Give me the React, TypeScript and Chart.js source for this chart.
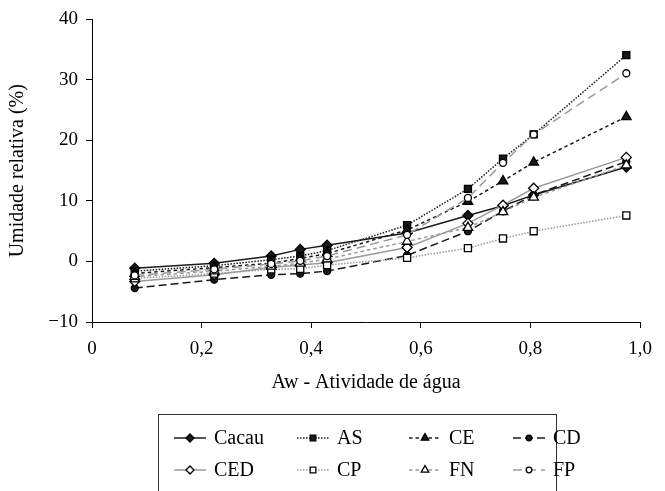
import React, { useEffect, useRef } from "react";
import { Chart, registerables } from "chart.js";
import { drawPoint } from "chart.js/helpers";

Chart.register(...registerables);

const FONT = '"Liberation Serif", "Times New Roman", serif';

const aw = [0.078, 0.223, 0.327, 0.38, 0.429, 0.575, 0.686, 0.75, 0.806, 0.975];
const seriesNames = ["Cacau", "AS", "CE", "CD", "CED", "CP", "FN", "FP"];
const cacau = [-1.1, -0.3, 0.9, 2.0, 2.7, 4.7, 7.6, 9.2, 11.0, 15.6];
const as = [-1.6, -0.7, 0.3, 0.9, 1.8, 6.0, 12.0, 17.0, 21.0, 34.1];
const ce = [-2.0, -1.0, -0.3, 0.5, 1.3, 5.2, 9.9, 13.3, 16.4, 23.9];
const cd = [-4.4, -3.0, -2.2, -2.0, -1.6, 1.0, 5.0, 8.3, 11.0, 16.5];
const ced = [-3.3, -2.2, -1.0, -0.6, -0.2, 2.3, 6.3, 9.3, 12.1, 17.2];
const cp = [-2.8, -2.0, -1.3, -1.2, -0.6, 0.6, 2.2, 3.8, 5.0, 7.6];
const fn = [-2.5, -1.6, -0.8, -0.3, 0.4, 3.3, 5.6, 8.2, 10.6, 15.9];
const fp = [-2.3, -1.3, -0.4, 0.1, 0.9, 4.4, 10.5, 16.3, 21.0, 31.1];
const xTickLabels = ["0", "0,2", "0,4", "0,6", "0,8", "1,0"];
const yTickLabels = ["−10", "0", "10", "20", "30", "40"];

const BLACK = "#1a1a1a";
const GRAY = "#9a9a9a";

const styles = [
  { color: BLACK, dash: [], point: "rectRot", radius: 5, fill: BLACK },
  { color: BLACK, dash: [1.5, 1.5], point: "rect", radius: 5, fill: BLACK },
  { color: BLACK, dash: [3.5, 3], point: "triangle", radius: 5.5, fill: BLACK },
  { color: BLACK, dash: [8, 4], point: "circle", radius: 3.5, fill: BLACK },
  { color: GRAY, dash: [], point: "rectRot", radius: 5, fill: "#fff" },
  { color: GRAY, dash: [1.5, 1.5], point: "rect", radius: 5, fill: "#fff" },
  { color: GRAY, dash: [3.5, 3], point: "triangle", radius: 5.5, fill: "#fff" },
  { color: GRAY, dash: [9, 5], point: "circle", radius: 3.5, fill: "#fff" },
];

const allSeries = [cacau, as, ce, cd, ced, cp, fn, fp];

const legendPlugin = {
  id: "boxLegend",
  afterDraw(chart: any) {
    const ctx = chart.ctx as CanvasRenderingContext2D;
    ctx.save();
    ctx.strokeStyle = "#333";
    ctx.lineWidth = 1;
    ctx.setLineDash([]);
    ctx.strokeRect(158.5, 414.5, 398, 120);
    const cols = [174, 297, 409, 513];
    const rows = [438, 470];
    const len = 32;
    chart.data.datasets.forEach((ds: any, i: number) => {
      const x0 = cols[i % 4];
      const y = rows[Math.floor(i / 4)];
      ctx.save();
      ctx.strokeStyle = ds.borderColor;
      ctx.lineWidth = ds.borderWidth;
      ctx.setLineDash(ds.borderDash || []);
      ctx.beginPath();
      ctx.moveTo(x0, y);
      ctx.lineTo(x0 + len, y);
      ctx.stroke();
      ctx.setLineDash([]);
      ctx.fillStyle = ds.pointBackgroundColor;
      ctx.strokeStyle = ds.pointBorderColor;
      ctx.lineWidth = 1.3;
      drawPoint(
        ctx,
        { pointStyle: ds.pointStyle, radius: ds.pointRadius * 0.8, rotation: 0, borderWidth: 1.3 } as any,
        x0 + len / 2,
        y
      );
      ctx.restore();
      ctx.fillStyle = "#000";
      ctx.font = `20px ${FONT}`;
      ctx.textBaseline = "middle";
      ctx.textAlign = "left";
      ctx.fillText(ds.label, x0 + len + 8, y + 1);
    });
    ctx.restore();
  },
};

export default function App() {
  const ref = useRef<HTMLCanvasElement | null>(null);
  useEffect(() => {
    if (!ref.current) return;
    const datasets = allSeries.map((s, i) => ({
      label: seriesNames[i],
      data: aw.map((x, j) => ({ x, y: s[j] })),
      borderColor: styles[i].color,
      borderWidth: 1.5,
      borderDash: styles[i].dash,
      pointStyle: styles[i].point,
      pointRadius: styles[i].radius,
      pointBackgroundColor: styles[i].fill,
      pointBorderColor: "#000",
      pointBorderWidth: 1.3,
      tension: 0,
      fill: false,
    }));
    const chart = new Chart(ref.current, {
      type: "line",
      data: { datasets: datasets.slice().reverse() },
      options: {
        animation: false,
        responsive: false,
        devicePixelRatio: 1,
        layout: { padding: { left: 0, right: 25, top: 16, bottom: 96 } },
        plugins: { legend: { display: false }, tooltip: { enabled: false } },
        scales: {
          x: {
            type: "linear",
            min: 0,
            max: 1,
            afterFit: (s: any) => {
              s.height = 73;
            },
            afterBuildTicks: (s: any) => {
              s.ticks = xTickLabels.map((_, i) => ({ value: i * 0.2 }));
            },
            ticks: {
              color: "#000",
              font: { family: FONT, size: 19 },
              padding: 10,
              maxRotation: 0,
              callback: (_v: any, i: number) => xTickLabels[i],
            },
            grid: { drawOnChartArea: false, drawTicks: true, tickLength: 6, color: "#000" },
            border: { display: true, color: "#000", width: 1 },
            title: {
              display: true,
              text: "Aw - Atividade de água",
              color: "#000",
              font: { family: FONT, size: 20 },
              padding: { top: 0, bottom: 0 },
            },
          },
          y: {
            type: "linear",
            min: -10,
            max: 40,
            afterFit: (s: any) => {
              s.width = 92;
            },
            afterBuildTicks: (s: any) => {
              s.ticks = yTickLabels.map((_, i) => ({ value: -10 + i * 10 }));
            },
            ticks: {
              color: "#000",
              font: { family: FONT, size: 19 },
              padding: 8,
              callback: (_v: any, i: number) => yTickLabels[i],
            },
            grid: { drawOnChartArea: false, drawTicks: true, tickLength: 6, color: "#000" },
            border: { display: true, color: "#000", width: 1 },
            title: {
              display: true,
              text: "Umidade relativa (%)",
              color: "#000",
              font: { family: FONT, size: 20 },
              padding: { top: 6, bottom: 0 },
            },
          },
        },
      },
      plugins: [
        {
          id: "orderLegend",
          afterDraw(c: any) {
            const saved = c.data.datasets;
            c.data.datasets = saved.slice().reverse();
            legendPlugin.afterDraw(c);
            c.data.datasets = saved;
          },
        },
      ],
    } as any);
    return () => chart.destroy();
  }, []);
  return (
    <div style={{ position: "fixed", left: 0, top: 0, width: 665, height: 491, background: "#fff" }}>
      <canvas ref={ref} width={665} height={491} style={{ display: "block" }} />
    </div>
  );
}
